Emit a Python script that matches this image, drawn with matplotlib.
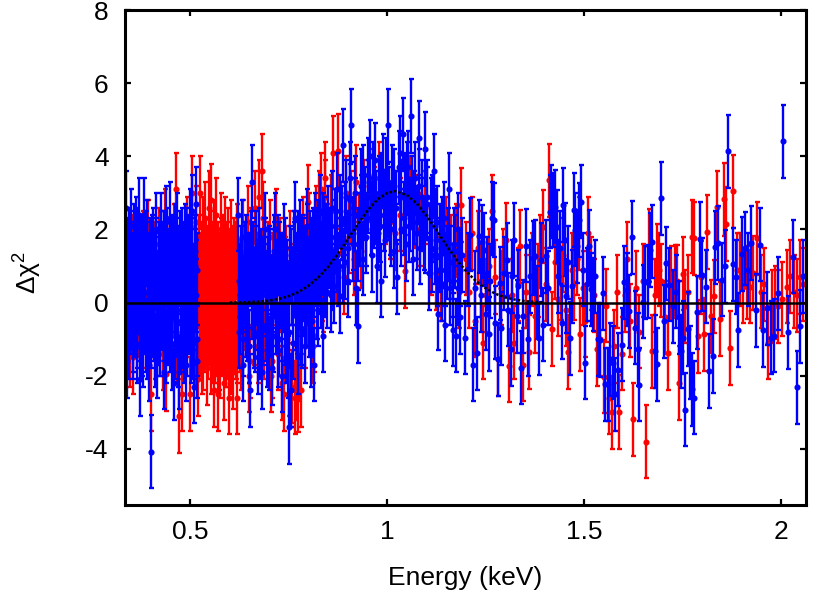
import numpy as np
import matplotlib
matplotlib.use("Agg")
import matplotlib.pyplot as plt

plt.rcParams['font.family'] = ['Liberation Sans', 'DejaVu Sans']
plt.rcParams['mathtext.fontset'] = 'custom'
plt.rcParams['mathtext.rm'] = 'Liberation Sans'
plt.rcParams['axes.unicode_minus'] = False

# residuals (energy keV, delta chi), errors are +-1
red_low = [
    (0.335, 1.6), (0.339, -0.3), (0.343, 0.9), (0.347, -1.3), (0.351, 1.4), (0.355, -1.5),
    (0.359, 0.6), (0.363, 1.1), (0.367, -0.5), (0.371, 0.8), (0.375, -1.0), (0.379, 1.5),
    (0.383, 0.2), (0.387, -0.8), (0.391, 1.8), (0.395, 0.4), (0.399, -2.5), (0.403, 0.7),
    (0.407, 1.2), (0.411, -1.1), (0.415, 0.3), (0.419, 1.6), (0.423, -0.6), (0.427, 0.9),
    (0.431, -1.4), (0.435, 2.1), (0.439, -1.96), (0.443, 0.5), (0.447, 1.3), (0.451, -0.9),
    (0.455, 0.1), (0.459, 1.7), (0.463, 3.1), (0.467, -1.2), (0.471, -3.1), (0.475, 0.8),
    (0.479, -2.5), (0.483, 1.0), (0.487, -0.4), (0.491, 1.9), (0.495, 0.2), (0.499, -2.5),
    (0.503, 3.0), (0.507, 0.6), (0.511, -1.3), (0.515, 2.2), (0.519, -2.1),
]
red_dense = [
    (0.521, 1.4), (0.523, -0.6), (0.525, 3.0), (0.527, 0.2), (0.529, -1.5), (0.531, 1.9),
    (0.533, 0.7), (0.535, -0.9), (0.537, 2.3), (0.539, -0.2), (0.541, 1.1), (0.543, -1.8),
    (0.545, 0.5), (0.547, 2.6), (0.549, -0.7), (0.551, 1.5), (0.553, 2.8), (0.555, -1.2),
    (0.557, 0.3), (0.559, 1.8), (0.561, -2.4), (0.563, 0.9), (0.565, 2.4), (0.567, -1.0),
    (0.569, -2.5), (0.571, 1.2), (0.573, 0.1), (0.575, -1.6), (0.577, 2.0), (0.579, 0.6),
    (0.581, -0.5), (0.583, 1.4), (0.585, -2.2), (0.587, 0.8), (0.589, 1.9), (0.591, -1.3),
    (0.593, 0.4), (0.595, 1.6), (0.597, -0.8), (0.599, -2.6), (0.601, 1.0), (0.603, 1.8),
    (0.605, -0.3), (0.607, 0.7), (0.609, -1.9), (0.611, 1.3), (0.613, 0.2), (0.615, -1.1),
    (0.617, 1.7), (0.619, -2.6),
]
red_dense_b = [
    (0.522, 0.3), (0.524, -1.0), (0.526, 0.9), (0.528, -0.4), (0.530, 1.2), (0.532, -1.4),
    (0.534, 0.1), (0.536, 0.8), (0.538, -0.8), (0.540, 1.3), (0.542, 0.4), (0.544, -1.1),
    (0.546, 0.6), (0.548, -0.3), (0.550, 1.0), (0.552, -1.5), (0.554, 0.2), (0.556, 1.2),
    (0.558, -0.6), (0.560, 0.7), (0.562, -1.2), (0.564, 0.0), (0.566, 1.1), (0.568, -0.9),
    (0.570, 0.5), (0.572, -1.4), (0.574, 0.9), (0.576, -0.2), (0.578, 1.3), (0.580, -1.0),
    (0.582, 0.3), (0.584, -0.6), (0.586, 1.0), (0.588, -1.3), (0.590, 0.6), (0.592, -0.1),
    (0.594, 1.2), (0.596, -1.1), (0.598, 0.4), (0.600, -0.7), (0.602, 0.8), (0.604, -1.5),
    (0.606, 1.1), (0.608, 0.0), (0.610, -0.9), (0.612, 0.7), (0.614, -0.4), (0.616, 1.2),
    (0.618, -1.2), (0.620, 0.5),
]
red_mid = [
    (0.623, 0.5), (0.629, -1.4), (0.636, 1.2), (0.642, 0.1), (0.649, -2.0), (0.655, 1.6),
    (0.662, -0.7), (0.668, 0.9), (0.675, 2.9), (0.681, 3.6), (0.688, -1.1), (0.694, 0.4),
    (0.701, 1.8), (0.707, -1.6), (0.714, 0.6), (0.720, -0.4), (0.727, 1.3), (0.733, -2.2),
    (0.740, 0.8), (0.746, -1.0), (0.753, 1.5), (0.759, -2.3), (0.766, -2.6), (0.772, -2.55),
    (0.779, 0.3), (0.785, 1.9), (0.792, -0.8), (0.798, 2.76), (0.805, 0.9), (0.811, -1.2),
    (0.818, 2.2), (0.824, 1.3), (0.831, 3.1), (0.837, 0.2), (0.843, 3.4), (0.850, 1.7),
    (0.856, 2.5), (0.863, 4.1), (0.869, 1.0), (0.876, 4.15), (0.882, 2.3), (0.889, 0.7),
    (0.895, 3.0), (0.902, 1.8), (0.908, 2.6), (0.915, 1.2), (0.921, 3.3), (0.928, 2.0),
    (0.934, 1.4), (0.941, 2.9), (0.954, 3.2), (0.967, 2.7), (0.980, 3.4), (0.993, 2.6),
    (1.006, 2.2), (1.019, 1.9), (1.032, 2.4), (1.045, 0.86), (1.058, 3.0), (1.071, 2.5),
    (1.084, 2.0), (1.097, 2.6), (1.110, 1.2), (1.123, 0.8), (1.136, 0.5), (1.149, 1.9),
    (1.162, 1.4), (1.175, 1.7), (1.181, 0.3), (1.188, 2.67),
]
red_mid_b = [
    (0.626, -0.9), (0.6325, 1.8), (0.639, -0.3), (0.6455, 2.2), (0.652, -1.6), (0.6585, 0.4),
    (0.665, 2.6), (0.6715, -1.2), (0.678, 0.7), (0.6845, 2.3), (0.691, -0.6), (0.6975, 1.2),
    (0.704, -2.0), (0.7105, 0.9), (0.717, 2.1), (0.7235, -1.4), (0.730, 0.2), (0.7365, -2.5),
    (0.743, 1.1), (0.7495, -2.1), (0.756, -2.4), (0.7625, 0.6), (0.769, -2.2), (0.7755, -1.7),
    (0.782, -2.4), (0.7885, 1.4), (0.795, -0.2), (0.8015, 2.0), (0.808, 0.7), (0.8145, -0.9),
    (0.821, 1.6), (0.8275, 2.6), (0.834, 0.5), (0.8405, 2.9), (0.847, 1.2),
]
red_high = [
    (1.200, 1.2), (1.208, 0.3), (1.215, 1.9), (1.222, -0.5), (1.230, 1.5), (1.237, 0.6),
    (1.244, -1.1), (1.251, 0.2), (1.258, 1.0), (1.265, 2.5), (1.273, 0.7), (1.280, -1.55),
    (1.288, 0.4), (1.295, 1.0), (1.301, 1.72), (1.310, -1.73), (1.317, 0.2), (1.322, -1.1),
    (1.331, 0.5), (1.338, 1.54), (1.345, -1.7), (1.352, 0.3), (1.360, -1.35), (1.367, 0.9),
    (1.374, -0.37), (1.382, 0.6), (1.389, 1.4), (1.396, 2.08), (1.404, 0.5), (1.410, 3.35),
    (1.418, -0.72), (1.426, 1.1), (1.433, 0.1), (1.440, 0.53), (1.447, 1.3), (1.455, -0.19),
    (1.460, -1.35), (1.468, 0.9), (1.475, 0.53), (1.482, 1.2), (1.486, 1.9), (1.490, -0.87),
    (1.497, 0.4), (1.503, -0.5), (1.510, 1.9), (1.518, 0.8), (1.526, 0.2), (1.533, -1.28),
    (1.541, -1.0), (1.550, -2.03), (1.555, -0.08), (1.562, -2.6), (1.570, -3.0), (1.577, -1.2),
    (1.583, 0.3), (1.589, -2.99), (1.597, -1.4), (1.603, 0.2), (1.608, 1.2), (1.616, -0.5),
    (1.625, -3.19), (1.632, 0.4), (1.640, -0.8), (1.650, 0.6), (1.657, -3.8), (1.665, 1.55),
    (1.672, -1.33), (1.679, 0.2), (1.685, 1.14), (1.690, 0.9), (1.695, 0.6), (1.705, -0.4),
    (1.712, -1.39), (1.720, 0.55), (1.730, 0.58), (1.735, 0.58), (1.742, -2.2), (1.750, 0.79),
    (1.756, -0.1), (1.765, 0.3), (1.773, 1.8), (1.780, 1.76), (1.790, -0.92), (1.797, 0.69),
    (1.805, -0.87), (1.813, 1.93), (1.822, -0.37), (1.830, 0.17), (1.837, 2.61), (1.845, -0.45),
    (1.854, 2.83), (1.861, 2.15), (1.871, -1.24), (1.879, 3.04), (1.888, 0.9), (1.896, 0.9),
    (1.904, 0.44), (1.913, 0.54), (1.921, 0.44), (1.930, 0.81), (1.940, 1.76), (1.950, 0.3),
    (1.958, 0.5), (1.968, -1.1), (1.976, -0.1), (1.985, 0.0), (1.993, -0.1), (2.003, 0.1),
    (2.016, 0.44), (2.024, 0.72), (2.032, 0.3), (2.040, 0.2), (2.048, 0.7), (2.057, 0.5),
]

blue_low = [
    (0.334, 1.2), (0.337, 2.6), (0.339, -1.6), (0.342, 0.5), (0.344, 1.6), (0.347, -0.4),
    (0.349, 2.1), (0.352, 0.9), (0.354, -1.1), (0.357, 1.7), (0.359, 0.2), (0.362, 1.9),
    (0.364, -0.8), (0.367, 1.1), (0.369, 2.4), (0.372, -2.1), (0.374, 0.6), (0.377, 1.4),
    (0.379, -1.3), (0.382, 2.4), (0.384, 0.3), (0.387, -0.9), (0.389, 1.8), (0.392, 0.8),
    (0.394, -1.7), (0.397, 1.3), (0.399, -4.08), (0.402, 0.1), (0.404, 1.6), (0.407, -0.6),
    (0.409, 0.9), (0.412, 2.0), (0.414, -1.6), (0.417, 0.4), (0.419, 1.2), (0.422, -1.0),
    (0.424, 2.0), (0.427, 0.7), (0.429, -0.3), (0.432, 1.5), (0.434, -1.9), (0.437, 0.9),
    (0.439, 2.2), (0.442, -0.7), (0.444, 1.0), (0.447, 0.2), (0.449, 2.3), (0.452, -1.4),
    (0.454, 1.3), (0.457, -2.2), (0.459, 0.6), (0.462, 1.7), (0.464, -0.5), (0.467, 2.0),
    (0.469, 0.4), (0.472, -1.9), (0.474, 1.1), (0.477, -0.9), (0.479, 1.6), (0.482, 0.3),
    (0.484, -1.2), (0.487, 1.7), (0.489, -1.7), (0.492, 0.8), (0.494, 1.4), (0.497, -0.2),
    (0.499, 2.1), (0.502, 0.5), (0.504, 2.5), (0.507, -1.1), (0.509, -2.3), (0.512, 1.0),
    (0.514, 2.7), (0.517, -1.6),
]
blue_low_b = [
    (0.3355, 0.4), (0.3375, -0.7), (0.3395, 1.3), (0.3415, 0.1), (0.3435, -1.1), (0.3455, 0.9),
    (0.3475, 1.5), (0.3495, -0.3), (0.3515, 0.6), (0.3535, -0.9), (0.3555, 1.2), (0.3575, 0.3),
    (0.3595, -0.5), (0.3615, 1.0), (0.3635, 1.6), (0.3655, -1.2), (0.3675, 0.2), (0.3695, 0.8),
    (0.3715, -0.6), (0.3735, 1.4), (0.3755, 0.0), (0.3775, -1.0), (0.3795, 0.7), (0.3815, 1.1),
    (0.3835, -0.4), (0.3855, 0.5), (0.3875, 1.5), (0.3895, -1.1), (0.3915, 0.3), (0.3935, 0.9),
    (0.3955, -0.2), (0.3975, 1.2), (0.3995, -0.8), (0.4015, 0.6), (0.4035, 1.4), (0.4055, -0.5),
    (0.4075, 0.2), (0.4095, -1.3), (0.4115, 0.8), (0.4135, 1.3), (0.4155, 0.0), (0.4175, -0.7),
    (0.4195, 1.0), (0.4215, 0.4), (0.4235, -1.0), (0.4255, 1.5), (0.4275, -0.3), (0.4295, 0.7),
    (0.4315, 1.2), (0.4335, -0.6), (0.4355, 0.3), (0.4375, -1.2), (0.4395, 0.9), (0.4415, 1.6),
    (0.4435, -0.1), (0.4455, 0.5), (0.4475, -0.9), (0.4495, 1.1), (0.4515, 0.2), (0.4535, -0.4),
    (0.4555, 1.4), (0.4575, 0.6), (0.4595, -1.1), (0.4615, 0.8), (0.4635, 1.3), (0.4655, -0.5),
    (0.4675, 0.1), (0.4695, -1.3), (0.4715, 0.9), (0.4735, 1.5), (0.4755, -0.2), (0.4775, 0.4),
    (0.4795, -0.8), (0.4815, 1.2), (0.4835, 0.7), (0.4855, -0.6), (0.4875, 0.3), (0.4895, 1.6),
    (0.4915, -1.0), (0.4935, 0.5), (0.4955, 1.1), (0.4975, -0.4), (0.4995, 0.8), (0.5015, -1.2),
    (0.5035, 1.3), (0.5055, 0.0), (0.5075, 0.6), (0.5095, -0.7), (0.5115, 1.4), (0.5135, 0.2),
    (0.5155, -1.0), (0.5175, 0.9),
]
blue_mid = [
    (0.621, 2.4), (0.624, -0.8), (0.627, 0.5), (0.630, 1.8), (0.633, -1.7), (0.636, 0.3),
    (0.639, 1.2), (0.642, -0.5), (0.645, 0.9), (0.648, -1.2), (0.651, -2.4), (0.654, 1.5),
    (0.657, 3.3), (0.660, 0.2), (0.663, -0.9), (0.666, 1.1), (0.669, 0.4), (0.672, -1.5),
    (0.675, 1.6), (0.678, 0.0), (0.681, -1.9), (0.684, 0.8), (0.687, 1.3), (0.690, 2.0),
    (0.693, -0.6), (0.696, 0.6), (0.699, -1.4), (0.702, 1.0), (0.705, 0.2), (0.708, -1.8),
    (0.711, 1.4), (0.714, 2.0), (0.717, -0.4), (0.720, 0.7), (0.723, -1.3), (0.726, 1.2),
    (0.729, 0.3), (0.732, -2.0), (0.735, 0.9), (0.738, 1.7), (0.741, -0.7), (0.744, 0.5),
    (0.747, -1.6), (0.750, -3.4), (0.753, 1.1), (0.756, -2.4), (0.759, 0.4), (0.762, 1.5),
    (0.765, 2.3), (0.768, -0.3), (0.771, 0.9), (0.774, -1.5), (0.777, 1.8), (0.780, 0.1),
    (0.783, -0.8), (0.786, 1.3), (0.789, 0.6), (0.792, -1.2), (0.795, 2.1), (0.798, 0.4),
    (0.801, -0.5), (0.804, 1.5), (0.807, -1.3), (0.810, 0.8), (0.813, -1.7), (0.816, 2.0),
    (0.819, 0.9), (0.822, 1.6), (0.825, -0.2), (0.828, 2.5), (0.831, 0.7), (0.834, 1.2),
    (0.837, -0.9), (0.840, 1.9), (0.843, 1.6), (0.846, 0.3), (0.849, 2.2),
]
blue_mid_b = [
    (0.6225, 0.6), (0.6255, -0.4), (0.6285, 1.1), (0.6315, 0.2), (0.6345, -1.0), (0.6375, 0.8),
    (0.6405, 1.4), (0.6435, -0.6), (0.6465, 0.3), (0.6495, -1.2), (0.6525, 0.9), (0.6555, 0.0),
    (0.6585, 1.2), (0.6615, -0.8), (0.6645, 0.5), (0.6675, 1.5), (0.6705, -0.3), (0.6735, 0.7),
    (0.6765, -1.1), (0.6795, 1.0), (0.6825, 0.2), (0.6855, -0.7), (0.6885, 1.3), (0.6915, 0.4),
    (0.6945, -1.3), (0.6975, 0.8), (0.7005, 1.1), (0.7035, -0.5), (0.7065, 0.3), (0.7095, -0.9),
    (0.7125, 1.2), (0.7155, 0.6), (0.7185, -0.2), (0.7215, 1.4), (0.7245, -1.0), (0.7275, 0.5),
    (0.7305, 0.9), (0.7335, -0.6), (0.7365, 0.2), (0.7395, 1.3), (0.7425, -1.2), (0.7455, 0.7),
    (0.7485, 0.1), (0.7515, -0.8), (0.7545, 1.0), (0.7575, 0.4), (0.7605, -1.1), (0.7635, 1.2),
    (0.7665, 0.6), (0.7695, -0.4), (0.7725, 1.5), (0.7755, 0.3), (0.7785, 0.9), (0.7815, -0.7),
    (0.7845, 1.4), (0.7875, 0.5), (0.7905, 1.1), (0.7935, -0.2), (0.7965, 1.7), (0.7995, 0.8),
    (0.8025, 0.2), (0.8055, 1.3), (0.8085, -0.5), (0.8115, 1.6), (0.8145, 0.6), (0.8175, 1.1),
    (0.8205, 0.0), (0.8235, 1.8), (0.8265, 0.9), (0.8295, 1.4), (0.8325, 0.3), (0.8355, 2.0),
    (0.8385, 1.0), (0.8415, 0.6), (0.8445, 1.7), (0.8475, 1.2),
]
blue_peak = [
    (0.852, 1.4), (0.856, 0.2), (0.860, 2.6), (0.864, 0.45), (0.868, 1.8), (0.872, 3.1),
    (0.876, 0.9), (0.881, 0.17), (0.885, 2.2), (0.888, 4.3), (0.892, 1.1), (0.896, 2.9),
    (0.900, 0.6), (0.904, 3.4), (0.909, 4.85), (0.913, 1.6), (0.917, 2.4), (0.921, 0.4),
    (0.926, -0.65), (0.930, 2.0), (0.934, 3.2), (0.938, 1.2), (0.943, 2.7), (0.947, 1.8),
    (0.952, 3.5), (0.957, 4.0), (0.962, 1.3), (0.966, 2.5), (0.970, 3.9), (0.974, 1.0),
    (0.978, 3.0), (0.982, 2.1), (0.985, 0.6), (0.989, 3.6), (0.993, 1.7), (0.998, 2.8),
    (1.003, 4.85), (1.007, 2.3), (1.011, 3.3), (1.016, 1.4), (1.020, 2.6), (1.025, 0.7),
    (1.031, 4.1), (1.036, 2.0), (1.040, 4.6), (1.044, 3.1), (1.048, 1.6), (1.052, 3.7),
    (1.057, 2.4), (1.061, 5.1), (1.065, 1.2), (1.070, 3.4), (1.075, 2.2), (1.080, 4.5),
    (1.084, 1.5), (1.088, 2.9), (1.093, 1.9), (1.097, 4.2), (1.101, 2.7), (1.106, 0.8),
    (1.110, 2.4), (1.114, 1.3), (1.118, 3.6), (1.122, 2.1), (1.126, 0.9), (1.130, -0.3),
    (1.134, 1.7), (1.139, 0.5), (1.143, 2.3), (1.147, -0.6), (1.151, 1.1), (1.156, 3.1),
    (1.160, 0.4), (1.166, -0.74), (1.170, 1.6), (1.175, -0.9), (1.180, 2.0), (1.185, -0.4),
    (1.190, 1.3),
]
blue_peak_b = [
    (0.854, 1.6), (0.8605, 0.8), (0.867, 2.1), (0.8735, 1.3), (0.880, 2.5), (0.8865, 1.0),
    (0.893, 2.3), (0.8995, 1.5), (0.906, 2.8), (0.9125, 1.9), (0.919, 3.0), (0.9255, 1.6),
    (0.932, 2.5), (0.9385, 3.3), (0.945, 2.0), (0.9515, 2.9), (0.958, 2.3), (0.9645, 3.4),
    (0.971, 2.6), (0.9775, 1.9), (0.984, 3.1), (0.9905, 2.4), (0.997, 3.5), (1.0035, 2.7),
    (1.010, 2.0), (1.0165, 3.2), (1.023, 2.6), (1.0295, 3.7), (1.036, 2.9), (1.0425, 2.3),
    (1.049, 3.4), (1.0555, 2.1), (1.062, 3.0), (1.0685, 2.6), (1.075, 1.9), (1.0815, 3.2),
    (1.088, 2.4), (1.0945, 1.8), (1.101, 2.9), (1.1075, 1.7), (1.114, 2.5), (1.1205, 1.5),
    (1.127, 2.2), (1.1335, 1.3), (1.140, 1.9), (1.1465, 0.9), (1.153, 1.6), (1.1595, 1.1),
    (1.166, 0.6), (1.1725, 1.4), (1.179, 0.4), (1.1855, 0.9),
]
blue_high = [
    (1.198, -0.96), (1.205, 0.91), (1.211, 1.86), (1.2175, -1.7), (1.223, 0.4), (1.229, -1.38),
    (1.233, 1.81), (1.237, 0.2), (1.240, 1.67), (1.245, 1.45), (1.250, -0.3), (1.254, 0.8),
    (1.259, -0.86), (1.262, 0.59), (1.266, 2.31), (1.270, 2.26), (1.274, -0.55), (1.280, -1.55),
    (1.287, 0.53), (1.290, -0.7), (1.297, 0.8), (1.303, 1.17), (1.306, -0.19), (1.314, -1.28),
    (1.318, 0.72), (1.322, 1.72), (1.329, -0.37), (1.333, 0.45), (1.340, -1.78), (1.345, -0.37),
    (1.353, 1.56), (1.358, -1.0), (1.362, 0.72), (1.371, 1.22), (1.375, 1.27), (1.380, 0.0),
    (1.385, -0.97), (1.390, 1.17), (1.396, -0.6), (1.402, 1.27), (1.408, 0.4), (1.412, 2.49),
    (1.416, 2.76), (1.420, 2.53), (1.425, 2.62), (1.430, 2.08), (1.433, 0.72), (1.438, 1.5),
    (1.443, -0.55), (1.447, 2.67), (1.452, 1.72), (1.455, 0.18), (1.460, 1.1), (1.464, -0.97),
    (1.468, 0.45), (1.473, 2.53), (1.478, 1.99), (1.483, 1.54), (1.486, 2.26), (1.493, 2.76),
    (1.498, 0.9), (1.503, -1.64), (1.508, 0.5), (1.513, 1.54), (1.517, 0.36), (1.522, 0.22),
    (1.528, 0.72), (1.534, -1.0), (1.541, -1.03), (1.547, 0.26), (1.552, -2.23), (1.560, -2.23),
    (1.566, -1.55), (1.574, -1.64), (1.579, -2.51), (1.587, -1.83), (1.596, -1.15), (1.602, 0.55),
    (1.608, 0.35), (1.615, -0.24), (1.621, 1.79), (1.629, -0.69), (1.636, -1.28), (1.640, -2.25),
    (1.649, 0.03), (1.655, 0.55), (1.662, 0.58), (1.668, 1.44), (1.673, 1.66), (1.680, -1.33),
    (1.686, -1.69), (1.695, 2.85), (1.702, -0.51), (1.708, 1.08), (1.716, 0.49), (1.725, -0.10),
    (1.733, 0.3), (1.740, -0.4), (1.746, -1.33), (1.750, -0.96), (1.756, -2.93), (1.763, -0.72),
    (1.769, -1.64), (1.775, -2.37), (1.780, -2.6), (1.786, -0.26), (1.794, 1.74), (1.800, 0.76),
    (1.810, 0.43), (1.818, -1.87), (1.827, -1.46), (1.832, 1.51), (1.841, 1.63), (1.849, 0.63),
    (1.858, 0.99), (1.866, 4.14), (1.877, 1.05), (1.885, 0.7), (1.892, -0.75), (1.902, 1.33),
    (1.909, 1.49), (1.917, 0.9), (1.924, 1.63), (1.937, -0.21), (1.947, 1.58), (1.955, -0.75),
    (1.964, -0.16), (1.974, -0.96), (1.982, -0.90), (1.993, 0.26), (2.006, 4.41), (2.019, -0.81),
    (2.030, 1.26), (2.040, -2.31), (2.048, -0.65), (2.057, 0.72),
]

# gaussian line model
model_e = [0.60, 0.65, 0.675, 0.70, 0.725, 0.75, 0.775, 0.80, 0.825, 0.85, 0.875, 0.90,
           0.925, 0.95, 0.975, 1.00, 1.02, 1.05, 1.075, 1.10, 1.125, 1.15, 1.175, 1.20,
           1.225, 1.25, 1.275, 1.30, 1.325, 1.35, 1.375, 1.40]
model_v = [0.0, 0.014, 0.03, 0.055, 0.10, 0.18, 0.29, 0.46, 0.69, 0.98, 1.34, 1.74,
           2.14, 2.52, 2.82, 3.0, 3.05, 2.94, 2.71, 2.37, 1.98, 1.57, 1.19, 0.86,
           0.59, 0.39, 0.24, 0.14, 0.08, 0.04, 0.02, 0.0]

red = np.array(red_low + red_dense + red_dense_b + red_mid + red_mid_b + red_high)
blue = np.array(blue_low + blue_low_b + blue_mid + blue_mid_b + blue_peak + blue_peak_b + blue_high)

fig = plt.figure(figsize=(8.3, 5.94), dpi=100)
ax = fig.add_axes([124.5 / 830, 1 - 504.5 / 594, 681.5 / 830, 494.5 / 594])

kw = dict(yerr=1.0, fmt='o', ms=3.4, elinewidth=1.7, capsize=1.8, capthick=1.7)
# separate zorders so the blue bars cover the red markers too
ax.errorbar(red[:, 0], red[:, 1], color='#ff0000', zorder=2, **kw)
ax.errorbar(blue[:, 0], blue[:, 1], color='#0000ff', zorder=3, **kw)
ax.plot(model_e, model_v, color='black', ls=(0, (1, 0.8)), lw=1.8, zorder=4)
ax.axhline(0, color='black', lw=1.8, zorder=5)

ax.set_xlim(0.3325, 2.0635)
ax.set_ylim(-5.52, 8)
ax.set_xticks([0.5, 1, 1.5, 2])
ax.set_xticklabels(['0.5', '1', '1.5', '2'])
ax.set_yticks([-4, -2, 0, 2, 4, 6, 8])
ax.tick_params(direction='in', length=4.5, width=1.6, top=True, right=True,
               labelsize=19)
ax.tick_params(axis='x', pad=11)
ax.tick_params(axis='y', pad=11.5)
for s in ax.spines.values():
    s.set_linewidth(2.2)
    s.set_zorder(6)

ax.set_xlabel('Energy (keV)', fontsize=19, labelpad=16)
ax.set_ylabel('Δχ$^2$', fontsize=19)
ax.yaxis.set_label_coords((43 - 124.5) / 681.5, 0.47)

fig.savefig('out.png', dpi=100)
